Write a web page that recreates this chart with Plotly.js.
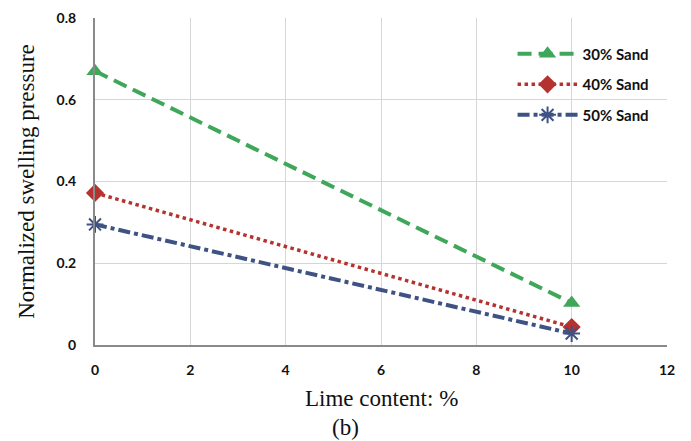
<!DOCTYPE html>
<html><head><meta charset="utf-8">
<script src="https://cdn.plot.ly/plotly-3.0.1.min.js"></script>
<style>html,body{margin:0;padding:0;background:#fff}</style>
</head><body><div id="chart" style="width:691px;height:441px"></div>
<script>
const lime = [0, 10];
const sand30 = [0.67, 0.103];
const sand40 = [0.372, 0.044];
const sand50 = [0.295, 0.028];
const names = ['30% Sand', '40% Sand', '50% Sand'];
const xTicks = [0, 2, 4, 6, 8, 10, 12];
const yTicks = [0, 0.2, 0.4, 0.6, 0.8];
const yTickText = ['0', '0.2', '0.4', '0.6', '0.8'];

const traces = [
  {x: lime, y: sand30, name: names[0], legendgroup: 'a', mode: 'lines+markers', cliponaxis: false,
   line: {color: '#3fa75a', width: 4, dash: '14px,7px'},
   marker: {symbol: 'triangle-up', size: 15, color: '#3fa75a'}},
  {x: lime, y: sand40, name: names[1], legendgroup: 'b', mode: 'lines+markers', cliponaxis: false,
   line: {color: '#b5322f', width: 3.5, dash: 'dot'},
   marker: {symbol: 'diamond', size: 14, color: '#b5322f'}},
  {x: lime, y: sand50, name: names[2], legendgroup: 'c', mode: 'lines+markers', cliponaxis: false,
   line: {color: '#3e5284', width: 4, dash: 'dashdot'},
   marker: {symbol: 'asterisk-open', size: 14, color: '#3e5284', line: {color: '#3e5284', width: 2}}}
];

const tickFont = {family: 'Lato, Open Sans, sans-serif', size: 14, color: '#111', weight: 'bold'};
const serif = 'Liberation Serif, Times New Roman, serif';
const layout = {
  width: 691, height: 441,
  margin: {l: 95, r: 24, t: 18, b: 96},
  paper_bgcolor: '#fff', plot_bgcolor: '#fff',
  showlegend: true,
  legend: {x: 0.73, y: 0.94, xanchor: 'left', yanchor: 'top', bgcolor: 'rgba(255,255,255,0)',
    font: {family: 'Lato, Open Sans, sans-serif', size: 15, color: '#111', weight: 'bold'},
    tracegroupgap: 8, itemwidth: 60},
  xaxis: {range: [0, 12], tickvals: xTicks, ticktext: xTicks.map(String), showgrid: true, gridcolor: '#d6d6d6',
    showline: true, linecolor: '#8a8a8a', linewidth: 2, zeroline: false, ticks: '', ticklabelstandoff: 11,
    tickfont: tickFont},
  yaxis: {range: [0, 0.8], tickvals: yTicks, ticktext: yTickText, showgrid: true, gridcolor: '#d6d6d6',
    showline: true, linecolor: '#8a8a8a', linewidth: 2, zeroline: false, ticks: '', ticklabelstandoff: 14,
    tickfont: tickFont,
    title: {text: 'Normalized swelling pressure', font: {family: serif, size: 23, color: '#111'}, standoff: 16}},
  annotations: [
    {text: 'Lime content: %', xref: 'paper', yref: 'paper', x: 0.5, y: 0, yshift: -53, xanchor: 'center', yanchor: 'middle',
     showarrow: false, font: {family: serif, size: 23, color: '#111'}},
    {text: '(b)', xref: 'paper', yref: 'paper', x: 0.5, y: 0, yshift: -82, xshift: -36, xanchor: 'center', yanchor: 'middle',
     showarrow: false, font: {family: serif, size: 23, color: '#111'}}]
};
Plotly.newPlot('chart', traces, layout, {displayModeBar: false, staticPlot: true});
</script></body></html>
